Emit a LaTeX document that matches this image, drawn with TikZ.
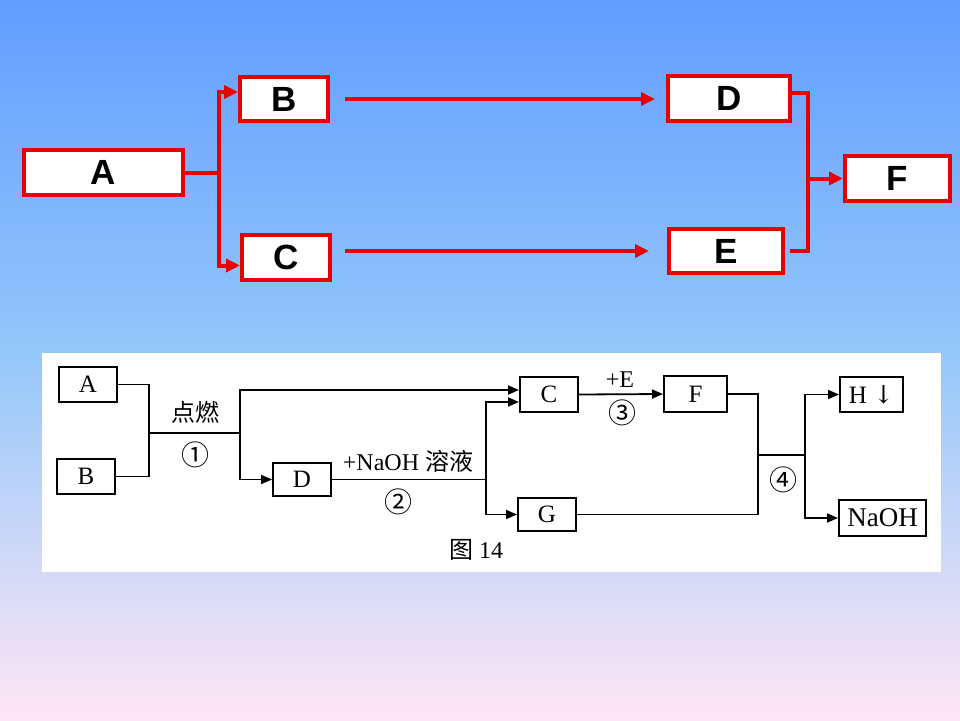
\documentclass[tikz,border=0pt]{standalone}
\usepackage{fontspec}
\setmainfont{Liberation Serif}
\newfontfamily\headfont{Liberation Sans}
\newfontfamily\cjk{Noto Sans CJK SC}
\newfontfamily\symfont{DejaVu Serif}
\usetikzlibrary{arrows.meta}

\definecolor{bgtop}{RGB}{98,158,255}
\definecolor{bgmid}{RGB}{150,200,250}
\definecolor{bgbot}{RGB}{255,230,245}
\definecolor{boxred}{RGB}{232,0,0}

\begin{document}
\begin{tikzpicture}[
  x=1pt,
  y=-1pt,
  redbox/.style={draw=boxred, line width=4pt, fill=white, inner sep=0pt,
    font=\headfont\bfseries\fontsize{35}{40}\selectfont},
  redline/.style={draw=boxred, line width=4pt},
  redarrow/.style={redline, -{Triangle[length=14pt,width=13pt]}},
  inkbox/.style={draw=black, line width=1.8pt, inner sep=0pt,
    font=\fontsize{25}{28}\selectfont},
  inkline/.style={draw=black, line width=1.8pt},
  inkarrow/.style={inkline, -{Triangle[length=11pt,width=9pt]}},
  steplabel/.style={font=\fontsize{24}{26}\selectfont},
  circlabel/.style={font=\cjk\fontsize{28}{30}\selectfont}
]

% Background
\useasboundingbox (0,0) rectangle (960,720);
\shade[top color=bgtop, bottom color=bgmid] (0,0) rectangle (960,360);
\shade[top color=bgmid, bottom color=bgbot] (0,360) rectangle (960,720);

% Upper scheme: red boxes
\foreach \n/\x/\y/\w/\h in {A/103.5/172.5/159/45, B/284/99/88/44,
    C/286/257.5/88/45, D/729/98.5/122/45, E/726/251/114/44,
    F/897.5/178.5/105/45} {
  \node[redbox, minimum width=\w pt, minimum height=\h pt] (\n) at (\x,\y) {\n};
}

% Upper scheme: connectors
\coordinate (jBC) at (219,172.5);
\coordinate (jDE) at (808,178.5);
\draw[redline] (A.east) -- (jBC);
\draw[redarrow] (jBC) |- ([yshift=7pt]B.west);
\draw[redarrow] (jBC) |- ([yshift=-8pt]C.west);
\draw[redarrow] ([xshift=15pt]B.east) -- ([xshift=-11pt]D.west |- B.east);
\draw[redarrow] ([xshift=13pt]C.east |- E.west) -- ([xshift=-18pt]E.west);
\draw[redline] ([yshift=6pt]D.east) -| ([xshift=23pt]E.east) -- ([xshift=5pt]E.east);
\draw[redarrow] (jDE) -- (F.west);

% Lower scheme: white panel
\fill[white] (42,353) rectangle (941,572);

% Lower scheme: boxes
\foreach \n/\lbl/\x/\y/\w/\h in {bA/A/88/384.5/58.2/35.2, bB/B/86/476.5/58.2/35.2,
    bD/D/302/479.5/58.2/33.2, bC/C/549/394.5/58.2/35.2,
    bF/F/695.5/394/63.2/36.2, bG/G/547/514.5/58.2/33.2} {
  \node[inkbox, minimum width=\w pt, minimum height=\h pt] (\n) at (\x,\y) {\lbl};
}
\node[inkbox, minimum width=63.2pt, minimum height=35.2pt] (bH) at (871.5,394.5) {H {\symfont ↓}};
\node[inkbox, minimum width=87.2pt, minimum height=36.2pt,
  font=\fontsize{27}{29}\selectfont] (bN) at (882.5,518) {NaOH};

% Lower scheme: connectors
\coordinate (jAB) at (149,433);
\coordinate (jD) at (240,433);
\coordinate (jCG) at (486,479.5);
\coordinate (jFG) at (758,455);
\coordinate (jHN) at (805,455);
\draw[inkline] (bA.east) -| (jAB) |- (bB.east);
\draw[inkline] (jAB) -- (jD);
\draw[inkarrow] (jD) |- ([yshift=4.5pt]bC.west);
\draw[inkarrow] (jD) |- (bD.west);
\draw[inkline] (bD.east) -- (jCG);
\draw[inkarrow] (jCG) |- ([yshift=-7.5pt]bC.west);
\draw[inkarrow] (jCG) |- (bG.west);
\draw[inkarrow] (bC.east) -- (bF.west);
\draw[inkline] (bF.east) -| (jFG) |- (bG.east);
\draw[inkline] (jFG) -- (jHN);
\draw[inkarrow] (jHN) |- (bH.west);
\draw[inkarrow] (jHN) |- (bN.west);

% Lower scheme: labels
\node[steplabel] (l1) at (195,412) {\cjk 点燃};
\node[circlabel] (n1) at (195,455) {①};
\node[steplabel] (l2) at (408,461) {+NaOH {\cjk 溶液}};
\node[circlabel] (n2) at (398,502) {②};
\node[steplabel] (l3) at (620,380) {+E};
\node[circlabel] (n3) at (622,413) {③};
\node[circlabel] (n4) at (783,480) {④};
\node[steplabel] (cap) at (476,550) {{\cjk 图} 14};

\end{tikzpicture}
\end{document}
